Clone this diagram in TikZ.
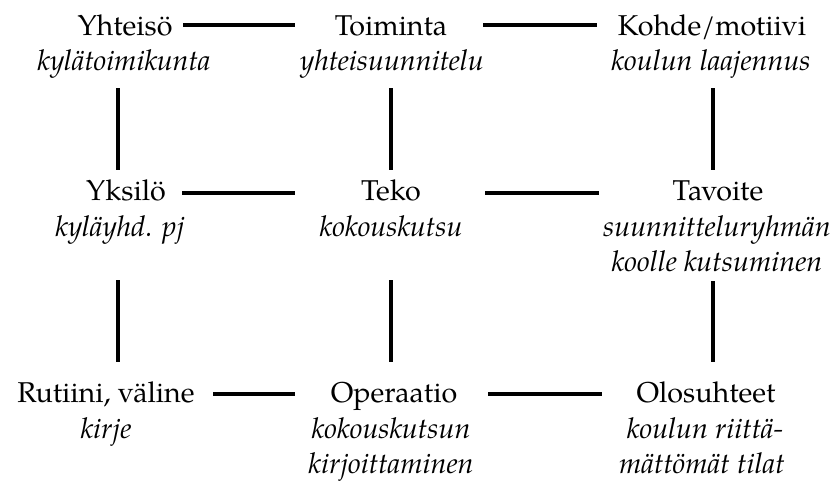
\documentclass[tikz,border=0pt]{standalone}
\usepackage{fontspec}
\setmainfont{TeX Gyre Pagella}
\begin{document}
\begin{tikzpicture}[x=0.75pt,y=-0.75pt,
  every node/.style={inner sep=0pt},
  ttl/.style={anchor=base, font=\fontsize{21.5}{27}\selectfont},
  sub/.style={anchor=base, font=\fontsize{21.5}{27}\selectfont\itshape},
  conn/.style={line width=2.3pt}]
\useasboundingbox (0,0) rectangle (837,483);
% row 1
\node[ttl] (yht) at (125,35) {Yhteisö};
\node[sub] (yhts) at (124,70) {kylätoimikunta};
\node[ttl] (toi) at (391,35) {Toiminta};
\node[sub] (tois) at (392,70) {yhteisuunnitelu};
\node[ttl] (koh) at (712,35) {Kohde/motiivi};
\node[sub] (kohs) at (711,70) {koulun laajennus};
% row 2
\node[ttl] (yks) at (126,200) {Yksilö};
\node[sub] (ykss) at (120,236) {kyläyhd. pj};
\node[ttl] (tek) at (391,200) {Teko};
\node[sub] (teks) at (391,236) {kokouskutsu};
\node[ttl] (tav) at (718,200) {Tavoite};
\node[sub] (tavs) at (717,236) {suunnitteluryhmän};
\node[sub] (tavs2) at (717,271) {koolle kutsuminen};
% row 3
\node[ttl] (rut) at (106,402) {Rutiini, väline};
\node[sub] (ruts) at (106,438) {kirje};
\node[ttl] (ope) at (394,402) {Operaatio};
\node[sub] (opes) at (391,438) {kokouskutsun};
\node[sub] (opes2) at (391,473) {kirjoittaminen};
\node[ttl] (olo) at (706,402) {Olosuhteet};
\node[sub] (olos) at (705,438) {koulun riittä-};
\node[sub] (olos2) at (702,473) {mättömät tilat};
% connector end points
\coordinate (h1a) at (183,25); \coordinate (h1b) at (295,25);
\coordinate (h1c) at (483,25); \coordinate (h1d) at (597,25);
\coordinate (h2a) at (182,193); \coordinate (h2b) at (295,193);
\coordinate (h2c) at (485,193); \coordinate (h2d) at (599,193);
\coordinate (h3a) at (213,394); \coordinate (h3b) at (295,394);
\coordinate (h3c) at (488,394); \coordinate (h3d) at (602,394);
\coordinate (v1a) at (118,88); \coordinate (v1b) at (118,170);
\coordinate (v1c) at (118,280); \coordinate (v1d) at (118,362);
\coordinate (v2a) at (391,88); \coordinate (v2b) at (391,170);
\coordinate (v2c) at (391,280); \coordinate (v2d) at (391,362);
\coordinate (v3a) at (713,88); \coordinate (v3b) at (713,170);
\coordinate (v3c) at (713,281); \coordinate (v3d) at (713,362);
\draw[conn] (h1a) -- (h1b); \draw[conn] (h1c) -- (h1d);
\draw[conn] (h2a) -- (h2b); \draw[conn] (h2c) -- (h2d);
\draw[conn] (h3a) -- (h3b); \draw[conn] (h3c) -- (h3d);
\draw[conn] (v1a) -- (v1b); \draw[conn] (v1c) -- (v1d);
\draw[conn] (v2a) -- (v2b); \draw[conn] (v2c) -- (v2d);
\draw[conn] (v3a) -- (v3b); \draw[conn] (v3c) -- (v3d);
\end{tikzpicture}
\end{document}
